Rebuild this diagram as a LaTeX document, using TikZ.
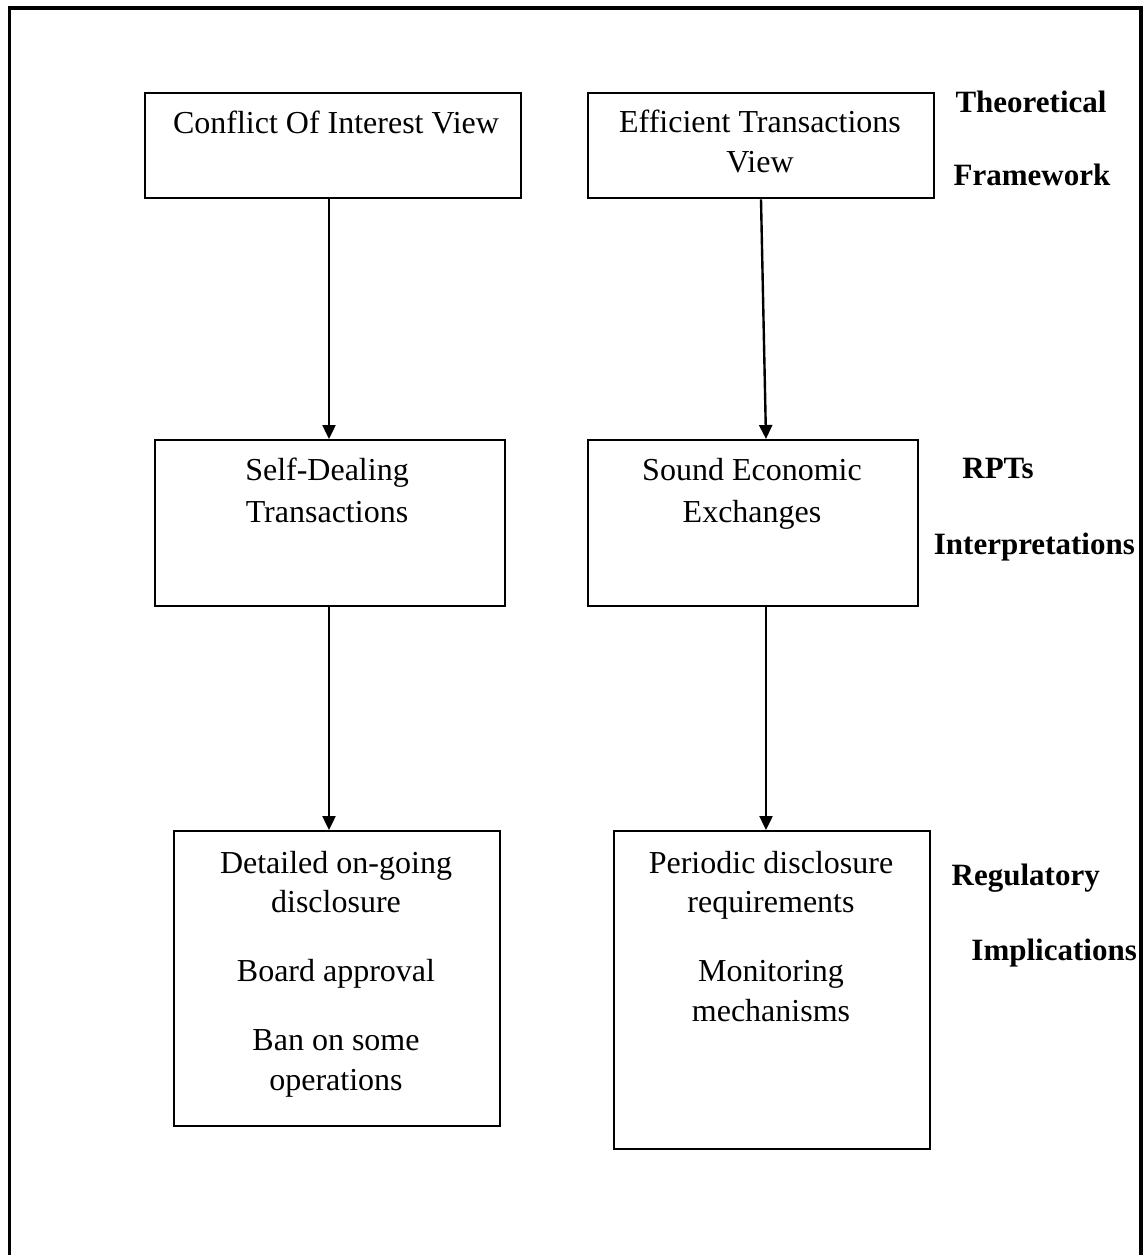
\documentclass[tikz,border=0pt]{standalone}
\usepackage{fontspec}
\setmainfont{Liberation Serif}
\usetikzlibrary{arrows.meta,calc}

\tikzset{
  frame/.style={draw=black, line width=3.3pt},
  box/.style={draw=black, line width=2.4pt, rectangle, inner sep=0pt, anchor=north west},
  txt/.style={inner sep=0pt, anchor=base, font=\fontsize{32}{40}\selectfont},
  lbl/.style={inner sep=0pt, font=\fontsize{31}{38}\selectfont\bfseries},
  arr/.style={line width=2.4pt, -{Triangle[length=14pt, width=13pt]}},
}

\begin{document}
\begin{tikzpicture}[x=1pt, y=-1pt]
\useasboundingbox (0,0) rectangle (1143,1255);
\fill[white] (0,0) rectangle (1143,1255);

% outer frame (its lower edge runs past the page)
\draw[frame] (9.3,8) rectangle (1141,1320);

% boxes
\node[box, minimum width=376pt, minimum height=105pt] (b1) at (144,92) {};
\node[box, minimum width=346pt, minimum height=105pt] (b2) at (587,92) {};
\node[box, minimum width=350pt, minimum height=166pt] (b3) at (154,439) {};
\node[box, minimum width=330pt, minimum height=166pt] (b4) at (587,439) {};
\node[box, minimum width=326pt, minimum height=295pt] (b5) at (173,830) {};
\node[box, minimum width=316pt, minimum height=318pt] (b6) at (613,830) {};

% box texts
\node[txt] (t1) at (336,133) {Conflict Of Interest View};
\node[txt] (t2a) at (760,132) {Efficient Transactions};
\node[txt] (t2b) at (760,172) {View};
\node[txt] (t3a) at (327,480) {Self-Dealing};
\node[txt] (t3b) at (327,522) {Transactions};
\node[txt] (t4a) at (752,480) {Sound Economic};
\node[txt] (t4b) at (752,522) {Exchanges};
\node[txt] (t5a) at (336,873) {Detailed on-going};
\node[txt] (t5b) at (336,912) {disclosure};
\node[txt] (t5c) at (336,981) {Board approval};
\node[txt] (t5d) at (336,1050) {Ban on some};
\node[txt] (t5e) at (336,1090) {operations};
\node[txt] (t6a) at (771,873) {Periodic disclosure};
\node[txt] (t6b) at (771,912) {requirements};
\node[txt] (t6c) at (771,981) {Monitoring};
\node[txt] (t6d) at (771,1021) {mechanisms};

% level labels
\node[lbl, anchor=base] (l1a) at (1031,112) {Theoretical};
\node[lbl, anchor=base] (l1b) at (1032,185) {Framework};
\node[lbl, anchor=base] (l2a) at (998,478) {RPTs};
\node[lbl, anchor=base east] (l2b) at (1135,554) {Interpretations};
\node[lbl, anchor=base east] (l3a) at (1100,885) {Regulatory};
\node[lbl, anchor=base east] (l3b) at (1137,960) {Implications};

% connector end points on the box edges
\coordinate (p1) at ($(b1.south west)+(185,0)$);
\coordinate (p3n) at ($(b3.north west)+(175,0)$);
\coordinate (p3s) at ($(b3.south west)+(175,0)$);
\coordinate (p5) at ($(b5.north west)+(156,0)$);
\coordinate (p2) at ($(b2.south west)+(174,0)$);
\coordinate (p4n) at ($(b4.north west)+(179,0)$);
\coordinate (p4s) at ($(b4.south west)+(179,0)$);
\coordinate (p6) at ($(b6.north west)+(153,0)$);

% connectors
\draw[arr] (p1) -- (p3n);
\draw[arr] (p3s) -- (p5);
\draw[arr] (p2) -- (p4n);
\draw[arr] (p4s) -- (p6);
\end{tikzpicture}
\end{document}
